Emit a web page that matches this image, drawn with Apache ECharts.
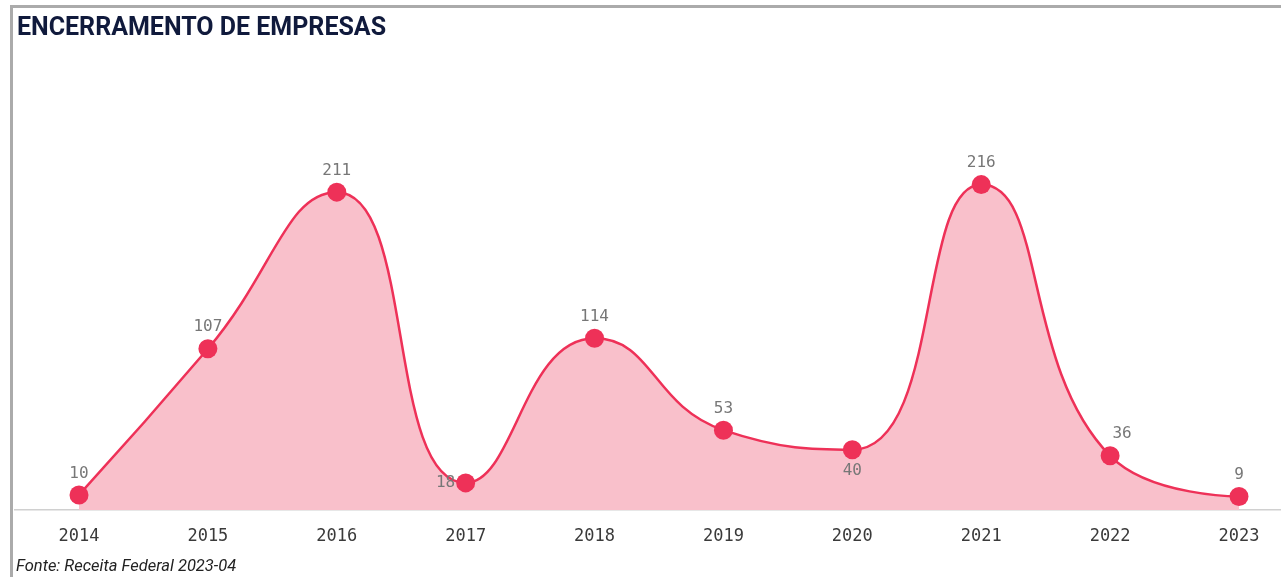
<!DOCTYPE html>
<html>
<head>
<meta charset="utf-8">
<script src="https://cdn.jsdelivr.net/npm/echarts@6/dist/echarts.min.js"></script>
<style>
html, body { margin: 0; padding: 0; background: #fff; }
#main { width: 1281px; height: 577px; }
</style>
</head>
<body>
<div id="main"></div>
<script>
// dados
var years = ['2014', '2015', '2016', '2017', '2018', '2019', '2020', '2021', '2022', '2023'];
var closures = [10, 107, 211, 18, 114, 53, 40, 216, 36, 9];
// posicao do rotulo de cada ponto
var labelPos = ['top', 'top', 'top', 'left', 'top', 'top', 'bottom', 'top', 'top', 'top'];

var pointData = [];
for (var i = 0; i < closures.length; i++) {
	var item = { value: closures[i], label: { position: labelPos[i] } };
	if (years[i] == '2022') {
		item.label.offset = [12, 0];
	}
	if (labelPos[i] == 'left') {
		item.label.distance = 1;
	}
	pointData.push(item);
}

var myChart = echarts.init(document.getElementById('main'));
var option = {
	animation: false,
	backgroundColor: '#ffffff',
	title: {
		text: 'ENCERRAMENTO DE EMPRESAS',
		left: 12,
		top: 11,
		textStyle: {
			fontFamily: 'Roboto',
			fontWeight: 'bold',
			fontSize: 25,
			color: '#101a3c'
		}
	},
	graphic: [
		{ type: 'rect', left: 10, top: 5, shape: { width: 1271, height: 3 }, style: { fill: '#ababab' } },
		{ type: 'rect', left: 10, top: 5, shape: { width: 3, height: 572 }, style: { fill: '#ababab' } },
		// linha de base (eixo) em toda a largura
		{ type: 'rect', left: 14, top: 509, shape: { width: 1267, height: 1.5 }, style: { fill: '#d0d0d0' } },
		{
			type: 'text', left: 16, top: 558,
			style: {
				text: 'Fonte: Receita Federal 2023-04',
				fontFamily: 'Roboto',
				fontStyle: 'italic',
				fontSize: 16.5,
				fill: '#222'
			}
		}
	],
	grid: {
		left: 79,
		right: 42,
		top: 40,
		bottom: 67
	},
	xAxis: {
		type: 'category',
		data: years,
		boundaryGap: false,
		axisLine: { show: false },
		axisTick: { show: false },
		splitLine: { show: false },
		axisLabel: {
			margin: 18,
			fontFamily: 'DejaVu Sans Mono',
			fontSize: 17,
			color: '#3a3a3a'
		}
	},
	yAxis: {
		type: 'value',
		min: 0,
		max: 312,
		show: false,
		splitLine: { show: false }
	},
	series: [{
		type: 'line',
		data: pointData,
		smooth: 0.5,
		symbol: 'circle',
		symbolSize: 19,
		itemStyle: { color: '#ee3158' },
		lineStyle: { color: '#ee3158', width: 2.5 },
		areaStyle: { color: '#f9c0cb', opacity: 1 },
		label: {
			show: true,
			distance: 4,
			fontFamily: 'DejaVu Sans Mono',
			fontSize: 16,
			color: '#777'
		}
	}]
};
myChart.setOption(option);
</script>
</body>
</html>
